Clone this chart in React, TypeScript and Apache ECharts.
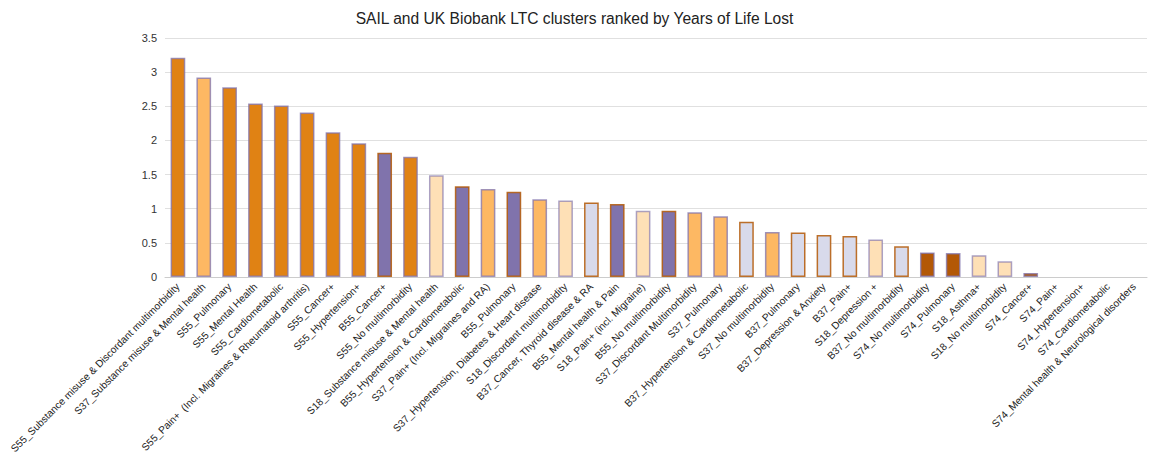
import React, { useEffect, useRef } from "react";
import * as echarts from "echarts";

const TITLE = "SAIL and UK Biobank LTC clusters ranked by Years of Life Lost";

const categories: string[] = [
  "S55_Substance misuse & Discordant multimorbidity",
  "S37_Substance misuse & Mental health",
  "S55_Pulmonary",
  "S55_Mental Health",
  "S55_Cardiometabolic",
  "S55_Pain+  (Incl. Migraines & Rheumatoid arthritis)",
  "S55_Cancer+",
  "S55_Hypertension+",
  "B55_Cancer+",
  "S55_No multimorbidity",
  "S18_Substance misuse & Mental health",
  "B55_Hypertension & Cardiometabolic",
  "S37_Pain+ (Incl. Migraines and RA)",
  "B55_Pulmonary",
  "S37_Hypertension, Diabetes & Heart disease",
  "S18_Discordant multimorbidity",
  "B37_Cancer, Thyroid disease & RA",
  "B55_Mental health & Pain",
  "S18_Pain+ (incl. Migraine)",
  "B55_No multimorbidity",
  "S37_Discordant Multimorbidity",
  "S37_Pulmonary",
  "B37_Hypertension & Cardiometabolic",
  "S37_No multimorbidity",
  "B37_Pulmonary",
  "B37_Depression & Anxiety",
  "B37_Pain+",
  "S18_Depression +",
  "B37_No multimorbidity",
  "S74_No multimorbidity",
  "S74_Pulmonary",
  "S18_Asthma+",
  "S18_No multimorbidity",
  "S74_Cancer+",
  "S74_Pain+",
  "S74_Hypertension+",
  "S74_Cardiometabolic",
  "S74_Mental health & Neurological disorders",
];

const yearsOfLifeLost: number[] = [
  3.21, 2.92, 2.78, 2.54, 2.51, 2.41, 2.12, 1.96, 1.82, 1.76,
  1.49, 1.33, 1.29, 1.25, 1.14, 1.12, 1.09, 1.07, 0.97, 0.97,
  0.95, 0.89, 0.81, 0.66, 0.65, 0.615, 0.60, 0.55, 0.45, 0.36,
  0.35, 0.32, 0.23, 0.06, 0, 0, 0, 0,
];

const yTicks: number[] = [0, 0.5, 1, 1.5, 2, 2.5, 3, 3.5];

// Fill colour per cohort prefix
const groupFill: Record<string, string> = {
  S55: "#E08214",
  S37: "#FDB863",
  S18: "#FEE0B6",
  S74: "#B35806",
  B55: "#8073AC",
  B37: "#D8DAEB",
};
const groupBorder: Record<string, string> = {
  S55: "rgba(128,115,172,0.75)",
  S37: "rgba(128,115,172,0.75)",
  S18: "rgba(128,115,172,0.65)",
  S74: "rgba(128,115,172,0.75)",
  B55: "rgba(179,88,6,0.85)",
  B37: "rgba(179,88,6,0.85)",
};

export default function App() {
  const ref = useRef<HTMLDivElement>(null);
  useEffect(() => {
    document.body.style.margin = "0";
    if (!ref.current) return;
    const chart = echarts.init(ref.current, undefined, { renderer: "svg" });
    const font = "Liberation Sans, Arial, sans-serif";
    chart.setOption({
      animation: false,
      textStyle: { fontFamily: font },
      title: {
        text: TITLE,
        left: "center",
        top: 5,
        textStyle: { fontFamily: font, fontSize: 15.6, fontWeight: "normal", color: "#222" },
      },
      grid: { left: 165, right: 2, top: 38, bottom: 188, outerBoundsMode: "none", containLabel: false },
      xAxis: {
        type: "category",
        data: categories,
        axisTick: { show: false },
        axisLine: { lineStyle: { color: "#ccc" } },
        axisLabel: {
          interval: 0,
          rotate: 45,
          fontSize: 10.2,
          color: "#222",
          margin: 8,
          fontFamily: font,
        },
      },
      yAxis: {
        type: "value",
        min: yTicks[0],
        max: yTicks[yTicks.length - 1],
        interval: 0.5,
        axisLine: { show: false },
        axisTick: { show: false },
        splitLine: { lineStyle: { color: "#e0e0e0", width: 1 } },
        axisLabel: { fontSize: 11, color: "#333", margin: 8, fontFamily: font },
      },
      series: [
        {
          type: "bar",
          barWidth: "57%",
          data: yearsOfLifeLost.map((v, i) => {
            const g = categories[i].slice(0, 3);
            return {
              value: v,
              itemStyle: {
                color: groupFill[g],
                borderColor: groupBorder[g],
                borderWidth: v > 0 ? 1.5 : 0,
              },
            };
          }),
        },
      ],
    });
    return () => chart.dispose();
  }, []);
  return <div ref={ref} style={{ width: 1149, height: 465 }} />;
}
